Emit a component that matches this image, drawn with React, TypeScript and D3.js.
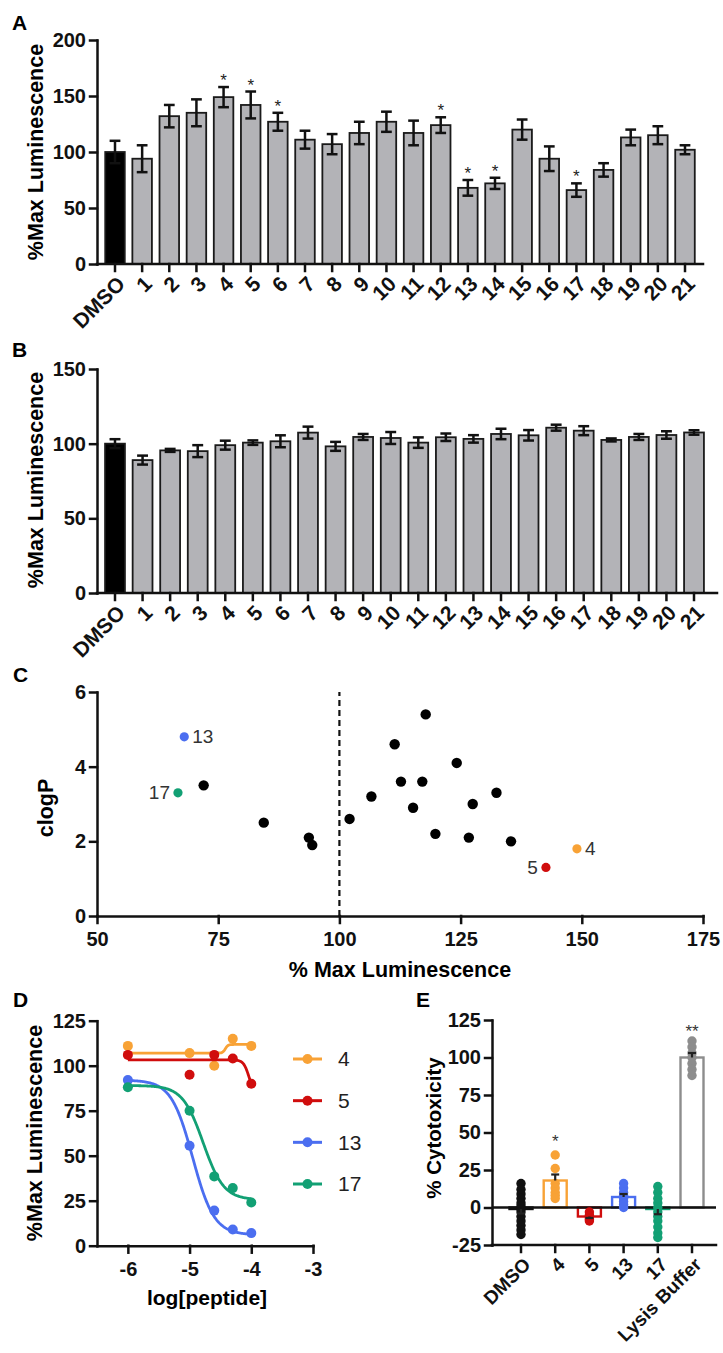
import React, { useEffect, useRef } from 'react';
import * as d3 from 'd3';

const WIDTH = 723;
const HEIGHT = 1353;
const FONT = '"Liberation Sans", Arial, Helvetica, sans-serif';

// panels A and B: luminescence after treatment with each compound
const compounds = ['DMSO', '1', '2', '3', '4', '5', '6', '7', '8', '9', '10', '11', '12', '13', '14', '15', '16', '17', '18', '19', '20', '21'];
const lumA = [100, 94, 132, 135, 149, 142, 127, 111, 107, 117, 127, 117, 124, 68, 72, 120, 94, 66, 84, 113, 115, 102];
const semA = [10, 12, 10, 12, 9, 12, 8, 8, 9, 10, 9, 11, 7, 7, 5, 9, 11, 6, 6, 7, 8, 4];
const starsA = ['4', '5', '6', '12', '13', '14', '17'];
const lumB = [100, 89, 95.5, 95, 99, 100.7, 101.6, 107.4, 98.2, 104.5, 103.8, 100.7, 104.3, 103.2, 106.5, 105.6, 110.7, 108.7, 102.5, 104.5, 105.8, 107.5];
const semB = [3, 3, 1, 4, 3, 1.5, 4, 4, 3, 2, 4, 3.5, 2.5, 2.5, 3.5, 3.5, 2, 3, 1, 2, 2.5, 1.5];

// panel C: clogP vs luminescence
const scatterId = ['13', '17', '5', '4', '14', '18', '1', '16', '21', '8', '7', '19', '9', '11', '20', '15', '12', '6', '10', '2', '3'];
const scatterLum = [68.0, 66.7, 142.6, 149.0, 72.0, 84.4, 93.7, 94.4, 102.1, 106.6, 111.4, 112.7, 117.1, 117.8, 115.2, 119.8, 124.2, 126.7, 127.5, 132.4, 135.4];
const scatterClogP = [4.8, 3.3, 1.3, 1.8, 3.5, 2.5, 2.1, 1.9, 2.6, 3.2, 4.6, 3.6, 3.6, 5.4, 2.9, 2.2, 4.1, 2.1, 3.0, 3.3, 2.0];

// panel D: dose response
const doseLog = [-6, -5, -4.6, -4.3, -4];
const doseSeries = ['4', '5', '13', '17'];
const resp4 = [111, 107, 100, 115, 111];
const resp5 = [106, 95, 106, 104, 90];
const resp13 = [92, 55.5, 19.5, 9, 7];
const resp17 = [88, 75, 38.5, 32, 24];
// fit: [start plateau, end plateau, logEC50, hill]
const fit4 = [107, 111.8, -4.42, 20];
const fit5 = [103.2, 85, -4.04, 10];
const fit13 = [92, 6, -4.95, 2.5];
const fit17 = [89, 25.5, -4.78, 2.6];

// panel E: cytotoxicity
const cytoCats = ['DMSO', '4', '5', '13', '17', 'Lysis Buffer'];
const cytoMean = [-1, 18, -6, 7, -1, 100];
const cytoSem = [3, 4, 1, 2, 3.5, 3];
const cytoDMSO = [16, 12, 9, 6, 3, 1, -1, -3, -6, -9, -12, -15, -18];
const cyto4 = [35, 26, 16, 13, 10, 8, 6];
const cyto5 = [-3, -5, -6, -7, -8, -9];
const cyto13 = [16, 13, 10, 8, 6, 4, 2, 0];
const cyto17 = [14, 10, 6, 3, 0, -3, -6, -9, -13, -17, -20];
const cytoLysis = [111, 107, 103, 100, 96, 92, 88];
const cytoStars = ['', '*', '', '', '', '**'];
const cytoStarPos = [0, 46, 0, 0, 0, 119];

const COLORS = { '4': '#f8a236', '5': '#d00d0d', '13': '#4b6ef0', '17': '#12a074', DMSO: '#111', 'Lysis Buffer': '#8d8d8d' };

const plain = d => String(d);

const styleAxis = (g, size = 20) => {
  g.selectAll('path, line').attr('stroke', '#111').attr('stroke-width', 2.5).attr('stroke-linecap', 'square');
  g.selectAll('text')
    .attr('fill', '#111')
    .attr('font-family', FONT)
    .attr('font-weight', 'bold')
    .attr('font-size', size);
};

const panelLabel = (svg, text, x, y) => {
  svg.append('text').attr('x', x).attr('y', y).text(text)
    .attr('font-family', FONT).attr('font-weight', 'bold').attr('font-size', 21);
};

const yTitle = (svg, text, x, y, size = 21.5) => {
  svg.append('text')
    .attr('transform', `translate(${x},${y}) rotate(-90)`)
    .attr('text-anchor', 'middle').attr('dy', '0.35em')
    .attr('font-family', FONT).attr('font-weight', 'bold').attr('font-size', size)
    .text(text);
};

// category axis with -45 deg labels
const catAxis = (svg, x, cats, y0, xStart, xEnd, size) => {
  const g = svg.append('g');
  g.append('line').attr('x1', xStart).attr('x2', xEnd).attr('y1', y0).attr('y2', y0);
  cats.forEach(c => {
    g.append('line').attr('x1', x(c)).attr('x2', x(c)).attr('y1', y0).attr('y2', y0 + 7);
    g.append('text')
      .attr('transform', `translate(${x(c) + 6},${y0 + 16}) rotate(-45)`)
      .attr('text-anchor', 'end').attr('dy', '0.35em')
      .text(c);
  });
  styleAxis(g, size);
};

const drawScreen = (svg, cfg) => {
  const { values, sems, yMax, yTicks, yTop, yBottom, xFirst, xLast, xEnd, stars, letter, letterY, titleY } = cfg;
  const y = d3.scaleLinear().domain([0, yMax]).range([yBottom, yTop]);
  const x = d3.scalePoint().domain(compounds).range([xFirst, xLast]);
  const barW = x.step() * 0.72;

  const bars = svg.append('g');
  compounds.forEach((c, i) => {
    const v = values[i];
    bars.append('rect')
      .attr('x', x(c) - barW / 2).attr('y', y(v))
      .attr('width', barW).attr('height', yBottom - y(v))
      .attr('fill', i === 0 ? '#000' : '#b3b3b7')
      .attr('stroke', '#1a1a1a').attr('stroke-width', 1.8);
    const cap = barW * 0.55;
    const e = bars.append('g').attr('stroke', '#111').attr('stroke-width', 2.5);
    e.append('line').attr('x1', x(c)).attr('x2', x(c)).attr('y1', y(v - sems[i])).attr('y2', y(v + sems[i]));
    e.append('line').attr('x1', x(c) - cap / 2).attr('x2', x(c) + cap / 2).attr('y1', y(v + sems[i])).attr('y2', y(v + sems[i]));
    e.append('line').attr('x1', x(c) - cap / 2).attr('x2', x(c) + cap / 2).attr('y1', y(v - sems[i])).attr('y2', y(v - sems[i]));
    if (stars && stars.includes(c)) {
      bars.append('text').attr('x', x(c)).attr('y', y(v + sems[i]) - 1)
        .attr('text-anchor', 'middle').attr('font-family', FONT).attr('font-size', 17)
        .attr('fill', '#222').text('*');
    }
  });

  const ya = svg.append('g').attr('transform', `translate(97,0)`)
    .call(d3.axisLeft(y).tickValues(yTicks).tickFormat(plain).tickSize(7).tickSizeOuter(0).tickPadding(4));
  styleAxis(ya);
  catAxis(svg, x, compounds, yBottom, 97, xEnd, 21);
  panelLabel(svg, letter, 12, letterY);
  yTitle(svg, '%Max Luminescence', 35, titleY);
};

const drawScatter = (svg) => {
  const x = d3.scaleLinear().domain([50, 175]).range([97, 703]);
  const y = d3.scaleLinear().domain([0, 6]).range([916, 692]);

  svg.append('line').attr('x1', x(100)).attr('x2', x(100)).attr('y1', y(0)).attr('y2', y(6))
    .attr('stroke', '#111').attr('stroke-width', 2.2).attr('stroke-dasharray', '6,4');

  const side = { '13': 1, '4': 1, '17': -1, '5': -1 };
  scatterId.forEach((id, i) => {
    const col = side[id] ? COLORS[id] : '#000';
    svg.append('circle').attr('cx', x(scatterLum[i])).attr('cy', y(scatterClogP[i]))
      .attr('r', side[id] ? 4.6 : 5.2).attr('fill', col);
    if (side[id]) {
      svg.append('text')
        .attr('x', x(scatterLum[i]) + side[id] * 8).attr('y', y(scatterClogP[i]))
        .attr('dy', '0.35em').attr('text-anchor', side[id] > 0 ? 'start' : 'end')
        .attr('font-family', FONT).attr('font-size', 19).attr('fill', '#333').text(id);
    }
  });

  const ya = svg.append('g').attr('transform', 'translate(97,0)')
    .call(d3.axisLeft(y).tickValues([0, 2, 4, 6]).tickFormat(plain).tickSize(7).tickSizeOuter(0).tickPadding(4));
  styleAxis(ya);
  const xa = svg.append('g').attr('transform', 'translate(0,916)')
    .call(d3.axisBottom(x).tickValues([50, 75, 100, 125, 150, 175]).tickFormat(plain).tickSize(7).tickSizeOuter(0).tickPadding(9));
  styleAxis(xa);

  svg.append('text').attr('x', 400).attr('y', 977).attr('text-anchor', 'middle')
    .attr('font-family', FONT).attr('font-weight', 'bold').attr('font-size', 21.5)
    .text('% Max Luminescence');
  panelLabel(svg, 'C', 13, 682);
  yTitle(svg, 'clogP', 45, 808);
};

const fourPL = (p, v) => p[1] + (p[0] - p[1]) / (1 + Math.pow(10, (v - p[2]) * p[3]));

const drawDose = (svg) => {
  const x = d3.scaleLinear().domain([-6.5, -3]).range([97, 313]);
  const y = d3.scaleLinear().domain([0, 125]).range([1245.7, 1020.7]);
  const resp = { '4': resp4, '5': resp5, '13': resp13, '17': resp17 };
  const fits = { '4': fit4, '5': fit5, '13': fit13, '17': fit17 };
  const xs = d3.range(-6, -3.999, 0.01);
  const line = d3.line().x(d => x(d[0])).y(d => y(d[1]));

  doseSeries.forEach(s => {
    svg.append('path').datum(xs.map(v => [v, fourPL(fits[s], v)]))
      .attr('d', line).attr('fill', 'none').attr('stroke', COLORS[s]).attr('stroke-width', 2.8);
    resp[s].forEach((r, i) => {
      svg.append('circle').attr('cx', x(doseLog[i])).attr('cy', y(r)).attr('r', 5).attr('fill', COLORS[s]);
    });
  });

  const ya = svg.append('g').attr('transform', 'translate(97,0)')
    .call(d3.axisLeft(y).tickValues([0, 25, 50, 75, 100, 125]).tickFormat(plain).tickSize(7).tickSizeOuter(0).tickPadding(4));
  styleAxis(ya);
  const xa = svg.append('g').attr('transform', 'translate(0,1245.7)')
    .call(d3.axisBottom(x).tickValues([-6, -5, -4, -3]).tickFormat(plain).tickSize(7).tickSizeOuter(0).tickPadding(9));
  styleAxis(xa);

  // legend
  const legY = d3.scalePoint().domain(doseSeries).range([1059, 1184]);
  doseSeries.forEach(s => {
    svg.append('line').attr('x1', 293).attr('x2', 322).attr('y1', legY(s)).attr('y2', legY(s))
      .attr('stroke', COLORS[s]).attr('stroke-width', 3);
    svg.append('circle').attr('cx', 307.5).attr('cy', legY(s)).attr('r', 5).attr('fill', COLORS[s]);
    svg.append('text').attr('x', 338).attr('y', legY(s)).attr('dy', '0.35em')
      .attr('font-family', FONT).attr('font-size', 21).attr('fill', '#222').text(s);
  });

  svg.append('text').attr('x', 207).attr('y', 1305).attr('text-anchor', 'middle')
    .attr('font-family', FONT).attr('font-weight', 'bold').attr('font-size', 21)
    .text('log[peptide]');
  panelLabel(svg, 'D', 13, 1007);
  yTitle(svg, '%Max Luminescence', 34, 1133);
};

const drawCyto = (svg) => {
  const y = d3.scaleLinear().domain([-25, 125]).range([1245, 1020]);
  const x = d3.scalePoint().domain(cytoCats).range([521, 692]);
  const barW = 23;
  const pts = [cytoDMSO, cyto4, cyto5, cyto13, cyto17, cytoLysis];

  cytoCats.forEach((c, i) => {
    const m = cytoMean[i];
    svg.append('rect').attr('x', x(c) - barW / 2).attr('y', Math.min(y(m), y(0)))
      .attr('width', barW).attr('height', Math.abs(y(m) - y(0)))
      .attr('fill', '#fff').attr('stroke', COLORS[c]).attr('stroke-width', 2.4);
  });

  svg.append('line').attr('x1', 492).attr('x2', 716).attr('y1', y(0)).attr('y2', y(0))
    .attr('stroke', '#111').attr('stroke-width', 2.5);

  cytoCats.forEach((c, i) => {
    pts[i].forEach(v => {
      svg.append('circle').attr('cx', x(c)).attr('cy', y(v)).attr('r', 4.7).attr('fill', COLORS[c]);
    });
    const m = cytoMean[i];
    const top = m + (m >= 0 ? cytoSem[i] : -cytoSem[i]);
    const e = svg.append('g').attr('stroke', '#222').attr('stroke-width', 2.2);
    e.append('line').attr('x1', x(c)).attr('x2', x(c)).attr('y1', y(m)).attr('y2', y(top));
    e.append('line').attr('x1', x(c) - 4).attr('x2', x(c) + 4).attr('y1', y(top)).attr('y2', y(top));
    if (cytoStars[i]) {
      svg.append('text').attr('x', x(c)).attr('y', y(cytoStarPos[i]) + 8)
        .attr('text-anchor', 'middle').attr('font-family', FONT).attr('font-size', 17)
        .attr('fill', '#333').text(cytoStars[i]);
    }
  });

  const ya = svg.append('g').attr('transform', 'translate(492,0)')
    .call(d3.axisLeft(y).tickValues([-25, 0, 25, 50, 75, 100, 125]).tickFormat(plain).tickSize(7).tickSizeOuter(0).tickPadding(4));
  styleAxis(ya);
  catAxis(svg, x, cytoCats, 1245, 492, 716, 19);
  panelLabel(svg, 'E', 416, 1007);
  yTitle(svg, '% Cytotoxicity', 434, 1128, 20.5);
};

export default function App() {
  const svgRef = useRef(null);

  useEffect(() => {
    const svg = d3.select(svgRef.current);
    svg.selectAll('*').remove();
    drawScreen(svg, {
      values: lumA, sems: semA, yMax: 200, yTicks: [0, 50, 100, 150, 200],
      yTop: 40, yBottom: 264, xFirst: 115, xLast: 685, xEnd: 703, stars: starsA,
      letter: 'A', letterY: 30, titleY: 152,
    });
    drawScreen(svg, {
      values: lumB, sems: semB, yMax: 150, yTicks: [0, 50, 100, 150],
      yTop: 369, yBottom: 593, xFirst: 115, xLast: 694, xEnd: 717, stars: null,
      letter: 'B', letterY: 357, titleY: 480,
    });
    drawScatter(svg);
    drawDose(svg);
    drawCyto(svg);
  }, []);

  return (
    <svg ref={svgRef} width={WIDTH} height={HEIGHT}
      style={{ position: 'absolute', left: 0, top: 0, background: '#fff' }} />
  );
}
